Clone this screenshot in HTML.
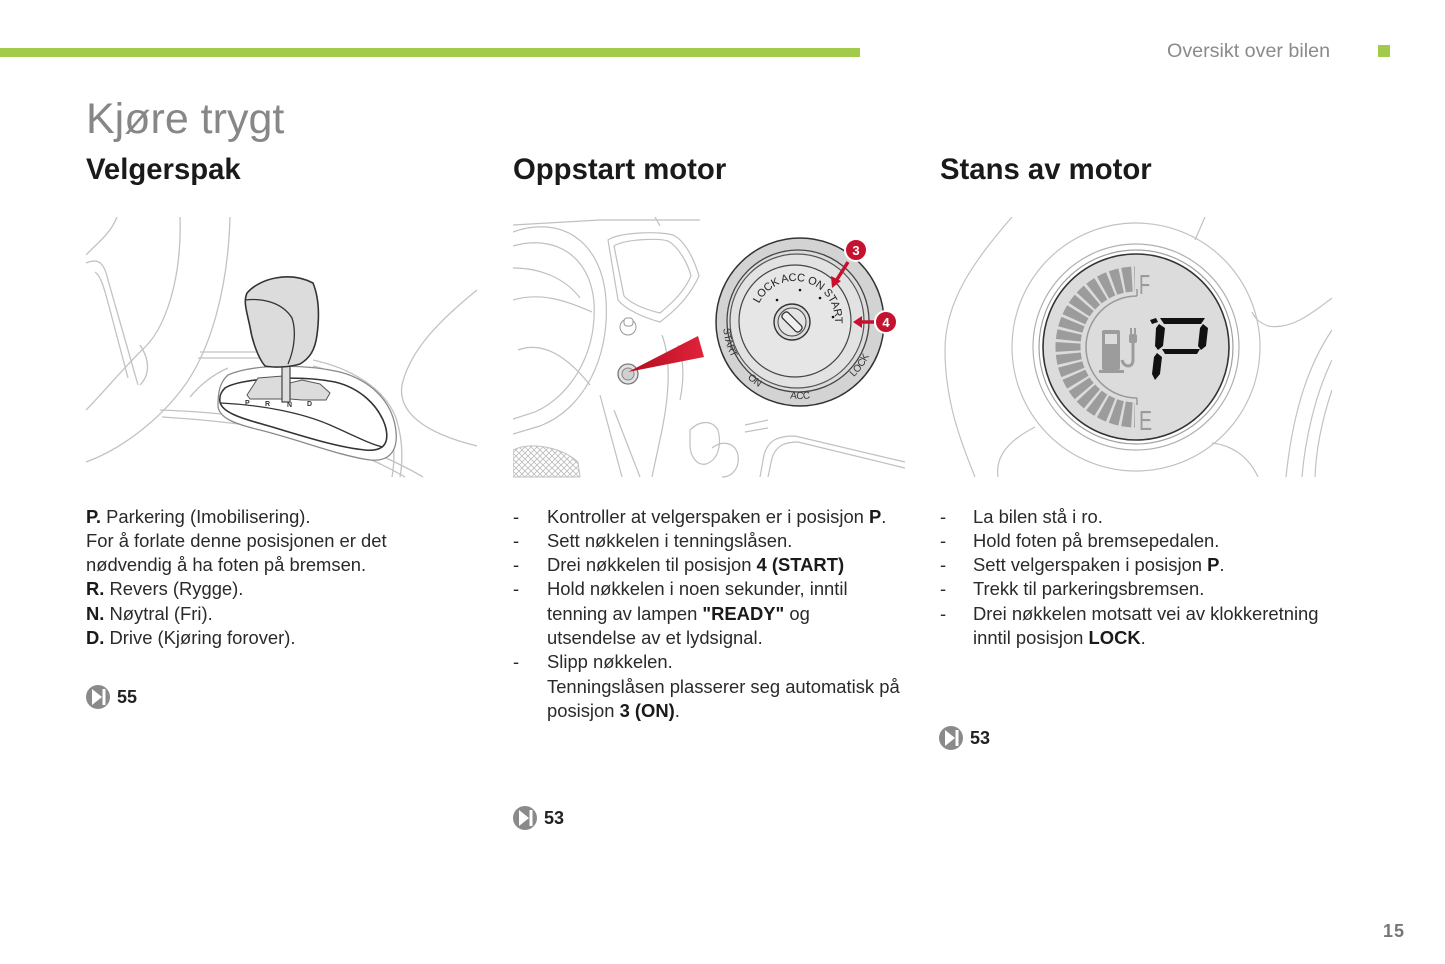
<!DOCTYPE html>
<html><head><meta charset="utf-8">
<style>
html,body{margin:0;padding:0;background:#fff;}
body{width:1445px;height:964px;position:relative;overflow:hidden;font-family:"Liberation Sans",Arial,sans-serif;}
.abs{position:absolute;white-space:nowrap;}
.title{left:86px;top:98px;font-size:43px;line-height:43px;color:#878787;}
.h2{top:155px;font-size:29.3px;line-height:29.3px;font-weight:bold;color:#1a1a1a;}
.body{font-size:18.4px;line-height:24.3px;color:#2a2a2a;}
.body b{color:#1a1a1a;}
.li{position:relative;}
.li .d{position:absolute;left:0;top:0;}
.ref{font-size:18px;line-height:18px;font-weight:bold;color:#222;}
svg{position:absolute;left:0;top:0;}
</style></head><body>

<svg width="1445" height="964" viewBox="0 0 1445 964">
<defs>
<clipPath id="c1"><rect x="85" y="217" width="393" height="261"/></clipPath>
<clipPath id="c2"><rect x="513" y="217" width="393" height="261"/></clipPath>
<clipPath id="c3"><rect x="940" y="217" width="392" height="261"/></clipPath>
<clipPath id="barclip"><rect x="1040" y="250" width="95" height="200"/></clipPath>
<pattern id="mesh" width="6" height="6" patternUnits="userSpaceOnUse">
<path d="M0,0 L6,6 M6,0 L0,6" stroke="#bbb" stroke-width="0.8" fill="none"/>
</pattern>
<linearGradient id="rg" x1="0" y1="0" x2="1" y2="0">
<stop offset="0" stop-color="#b00d20"/><stop offset="1" stop-color="#e2233a"/>
</linearGradient>
<path id="outerArc" d="M723,322 A77,77 0 0 0 877,322"/>
<path id="innerArc" d="M757.4,307.3 A40,40 0 1 1 815,355.6"/>
</defs>

<!-- header -->
<rect x="0" y="48" width="860" height="9" fill="#a2cb4b"/>
<rect x="1378" y="45" width="12" height="12" fill="#a2cb4b"/>

<!-- IMAGE 1: gear selector -->
<g clip-path="url(#c1)" fill="none" stroke="#c2c2c2" stroke-width="1.3">
<path d="M86,255 C95,245 110,235 117,217"/>
<path d="M86,263 C98,258 104,262 108,280 L138,385"/>
<path d="M95,272 C100,275 103,285 106,295 L128,378"/>
<path d="M180,217 C182,280 165,330 142,350 C120,372 100,396 86,410"/>
<path d="M140,345 C150,360 150,375 140,385"/>
<path d="M230,217 C228,290 210,350 185,385 C160,420 120,450 86,462"/>
<path d="M200,352 L262,352"/><path d="M198,358 L262,358"/>
<path d="M313,360 C350,368 385,388 396,418 C403,440 403,460 400,477"/>
<path d="M313,366 C346,374 378,392 388,420 C395,440 395,460 392,477"/>
<path d="M190,397 C200,385 212,375 228,368"/>
<path d="M160,410 C220,412 290,420 332,436 C372,450 408,468 423,477"/>
<path d="M162,417 C228,421 298,430 338,446 C368,457 393,470 405,477"/>
<path d="M477,290 C440,320 410,350 402,385 C398,410 420,432 477,446"/>
</g>
<g clip-path="url(#c1)">
<path d="M228,375 C250,365 300,363 340,372 C370,380 390,400 395,425 C400,450 390,462 370,460 C340,456 300,440 260,430 C235,424 218,418 218,405 C218,392 220,382 228,375 Z" fill="#fff" stroke="#8a8a8a" stroke-width="1.3"/>
<path d="M225,388 C240,378 300,375 335,382 C360,388 378,405 385,425 C390,442 385,452 365,450 C335,447 300,435 262,424 C240,418 222,412 220,402 C219,396 221,392 225,388 Z" fill="#fff" stroke="#333" stroke-width="1.6"/>
<path d="M221,403 C260,405 300,412 330,425 C355,436 372,445 383,447" fill="none" stroke="#333" stroke-width="1.3"/>
<path d="M247,395 L258,378 L283,376 L290,383 L302,380 L320,384 L330,393 L326,400 L302,400 L290,399 L250,399 Z" fill="#dcdcdc" stroke="#555" stroke-width="1"/>
<g font-size="7" fill="#333" font-weight="bold"><text x="245" y="405">P</text><text x="265" y="406">R</text><text x="287" y="407">N</text><text x="307" y="406">D</text></g>
<rect x="282" y="362" width="8" height="40" fill="#dedede" stroke="#444" stroke-width="1.2"/>
<path d="M247,293 C260,278 290,271 313,283 C320,300 319,320 317,335 C315,350 310,358 300,364 C290,367 275,368 265,366 C258,358 252,340 250,327 C247,312 243,302 247,293 Z" fill="#dcdcdc" stroke="#333" stroke-width="1.6"/>
<path d="M245,300 C262,298 282,302 292,318 C296,330 295,348 288,364" fill="none" stroke="#333" stroke-width="1.3"/>
</g>

<!-- IMAGE 2: ignition -->
<g clip-path="url(#c2)" fill="none" stroke="#c0c0c0" stroke-width="1.2">
<path d="M513,232 C560,215 602,240 606,300 C610,360 582,410 540,426 L513,434"/>
<path d="M513,246 C555,234 590,256 594,302 C597,355 570,396 535,412 L513,419"/>
<path d="M513,268 C540,268 565,278 580,298"/>
<path d="M513,300 C540,292 565,300 592,312"/>
<path d="M518,350 C545,340 570,360 590,385"/>
<path d="M513,225 L600,220 L700,220"/>
<path d="M655,217 L660,226"/>
<path d="M608,240 C620,232 660,231 673,235 C686,241 695,262 699,276 C690,296 676,310 660,322 C645,318 626,310 618,300 Z"/>
<path d="M614,246 C625,239 658,238 668,241 C679,247 688,264 691,276 C684,292 672,303 660,313 C647,310 631,304 624,296 Z"/>
<path d="M600,395 L622,477"/><path d="M614,410 L640,477"/>
<path d="M662,335 C672,362 668,400 662,430 L652,477"/>
<path d="M678,345 C684,360 684,380 680,400"/>
<path d="M690,430 C700,420 712,420 718,430 C722,445 718,460 706,464 C696,466 690,455 690,445 Z"/>
<path d="M712,448 C722,440 735,442 738,455 C740,468 732,477 722,477"/>
<path d="M745,425 L768,420"/><path d="M745,432 L768,428"/>
<path d="M760,477 L764,455 C768,440 778,436 795,436 L905,462"/>
<path d="M768,477 L772,458 C776,446 784,442 798,442 L905,468"/>
</g>
<g clip-path="url(#c2)">
<path d="M513,450 C530,442 560,446 578,462 L580,477 L513,477 Z" fill="url(#mesh)" stroke="#c0c0c0"/>
<circle cx="628" cy="327" r="8" fill="#fff" stroke="#999"/>
<rect x="624" y="318" width="9" height="8" rx="3" fill="#fff" stroke="#999"/>
<circle cx="628" cy="374" r="10" fill="#e2e2e2" stroke="#777" stroke-width="1.3"/>
<circle cx="628" cy="374" r="6" fill="#d0d0d0" stroke="#888"/>
<polygon points="628,372 698,336 704,357" fill="url(#rg)"/>
<!-- key ring -->
<circle cx="800" cy="322" r="84" fill="#d3d3d3" stroke="#333" stroke-width="1.5"/>
<circle cx="798" cy="321" r="71" fill="#dcdcdc" stroke="#444" stroke-width="1.3"/>
<circle cx="797" cy="321" r="67" fill="#e2e2e2" stroke="#555" stroke-width="1.2"/>
<circle cx="795" cy="321" r="56" fill="#e6e6e6" stroke="#444" stroke-width="1.2"/>
<g font-size="10" fill="#333" letter-spacing="-0.3">
<text><textPath href="#outerArc" startOffset="9%" text-anchor="middle">START</textPath></text>
<text><textPath href="#outerArc" startOffset="29%" text-anchor="middle">ON</textPath></text>
<text><textPath href="#outerArc" startOffset="50%" text-anchor="middle">ACC</textPath></text>
<text><textPath href="#outerArc" startOffset="80%" text-anchor="middle">LOCK</textPath></text>
</g>
<text font-size="11" fill="#222" letter-spacing="-0.2"><textPath href="#innerArc" startOffset="4">LOCK ACC ON START</textPath></text>
<g fill="#111"><circle cx="777" cy="300" r="1.3"/><circle cx="800" cy="290" r="1.3"/><circle cx="820" cy="298" r="1.3"/><circle cx="833" cy="317" r="1.3"/></g>
<circle cx="792" cy="322" r="18" fill="#dcdcdc" stroke="#333" stroke-width="1.4"/>
<circle cx="792" cy="322" r="14" fill="#e4e4e4" stroke="#444" stroke-width="1"/>
<rect x="788" y="310" width="8" height="24" rx="3" transform="rotate(-45 792 322)" fill="#f0f0f0" stroke="#333" stroke-width="1.3"/>
<!-- markers -->
<path d="M848,262 L836,281" stroke="#c8102e" stroke-width="3.5"/>
<polygon points="832,288 831,276 841,281" fill="#c8102e"/>
<circle cx="856" cy="250" r="11" fill="#c4122f" stroke="#fff" stroke-width="2"/>
<text x="856" y="255" font-size="13" font-weight="bold" fill="#fff" text-anchor="middle">3</text>
<path d="M874,322 L860,322" stroke="#c8102e" stroke-width="3.5"/>
<polygon points="853,322 862,316 862,328" fill="#c8102e"/>
<circle cx="886" cy="322" r="11" fill="#c4122f" stroke="#fff" stroke-width="2"/>
<text x="886" y="327" font-size="13" font-weight="bold" fill="#fff" text-anchor="middle">4</text>
</g>

<!-- IMAGE 3: display -->
<g clip-path="url(#c3)" fill="none" stroke="#c2c2c2" stroke-width="1.2">
<path d="M1012,217 C975,260 945,300 945,350 C945,400 960,440 975,477"/>
<path d="M1205,217 L1195,240"/>
<path d="M1332,298 C1310,315 1290,330 1268,326 C1258,322 1255,318 1252,312"/>
<path d="M1332,330 C1305,370 1292,420 1286,477"/>
<path d="M1332,360 C1315,395 1305,440 1302,477"/>
<path d="M1332,390 C1322,420 1316,450 1315,477"/>
<path d="M1035,427 C1010,440 995,455 998,477"/>
<path d="M1212,443 C1230,445 1248,455 1258,477"/>
<circle cx="1136" cy="347" r="124"/>
<circle cx="1136" cy="347" r="103" stroke="#b0b0b0"/>
<circle cx="1136" cy="347" r="97" stroke="#a0a0a0"/>
</g>
<g clip-path="url(#c3)">
<circle cx="1136" cy="347" r="93" fill="#dcdcdc" stroke="#333" stroke-width="1.6"/>
<circle cx="1136" cy="347" r="68" fill="none" stroke="#9c9c9c" stroke-width="25" stroke-dasharray="8.4 2.54" stroke-dashoffset="9.44" clip-path="url(#barclip)"/>
<path d="M1137,296 A51,51 0 0 0 1137,398" fill="none" stroke="#999" stroke-width="1.5"/>
<path d="M1137,289 L1137,296 M1137,398 L1137,405" stroke="#999" stroke-width="1.5"/>
<text x="1139" y="294" font-size="28" fill="#9a9a9a" transform="translate(1139 0) scale(0.65 1) translate(-1139 0)">F</text>
<text x="1139" y="430" font-size="28" fill="#9a9a9a" transform="translate(1139 0) scale(0.7 1) translate(-1139 0)">E</text>
<!-- pump -->
<rect x="1102" y="330" width="18" height="40" rx="2" fill="#9c9c9c"/>
<rect x="1105" y="334" width="12" height="10" fill="#dcdcdc"/>
<rect x="1099" y="370" width="25" height="3" fill="#9c9c9c"/>
<path d="M1133,343 L1133,360 C1133,368 1124,368 1122,360" fill="none" stroke="#9c9c9c" stroke-width="3"/>
<rect x="1129" y="334" width="8" height="9" rx="2" fill="#9c9c9c"/>
<path d="M1131,334 L1131,328 M1135,334 L1135,328" stroke="#9c9c9c" stroke-width="2"/>
<!-- P segments -->
<g fill="#111">
<polygon points="1150,320 1156,318 1158,322 1152,324"/>
<polygon points="1160,318 1205,318 1201,324 1164,324"/>
<polygon points="1159,324 1165,328 1163,346 1158,350 1155,346 1156,328"/>
<polygon points="1203,324 1208,328 1206,346 1201,350 1198,346 1200,328"/>
<polygon points="1162,349 1200,349 1197,354 1165,354"/>
<polygon points="1157,353 1162,357 1160,374 1155,380 1152,374 1154,357"/>
</g>
</g>

<!-- reference icons -->
<g>
<circle cx="98" cy="697" r="12" fill="#8a8a8a"/>
<polygon points="92,689 102,697 92,705" fill="#fff"/><rect x="102.5" y="689" width="3" height="16" fill="#fff"/>
<circle cx="525" cy="818" r="12" fill="#8a8a8a"/>
<polygon points="519,810 529,818 519,826" fill="#fff"/><rect x="529.5" y="810" width="3" height="16" fill="#fff"/>
<circle cx="951" cy="738" r="12" fill="#8a8a8a"/>
<polygon points="945,730 955,738 945,746" fill="#fff"/><rect x="955.5" y="730" width="3" height="16" fill="#fff"/>
</g>
</svg>

<div class="abs" style="left:1167px;top:41px;font-size:19.7px;line-height:20px;color:#8a8a8a;">Oversikt over bilen</div>
<div class="abs title">Kjøre trygt</div>
<div class="abs h2" style="left:86px;">Velgerspak</div>
<div class="abs h2" style="left:513px;">Oppstart motor</div>
<div class="abs h2" style="left:940px;">Stans av motor</div>

<div class="abs body" style="left:86px;top:504.5px;">
<div><b>P.</b> Parkering (Imobilisering).</div>
<div>For å forlate denne posisjonen er det</div>
<div>nødvendig å ha foten på bremsen.</div>
<div><b>R.</b> Revers (Rygge).</div>
<div><b>N.</b> Nøytral (Fri).</div>
<div><b>D.</b> Drive (Kjøring forover).</div>
</div>

<div class="abs body" style="left:513px;top:504.5px;">
<div class="li" style="padding-left:34px;"><span class="d">-</span>Kontroller at velgerspaken er i posisjon <b>P</b>.</div>
<div class="li" style="padding-left:34px;"><span class="d">-</span>Sett nøkkelen i tenningslåsen.</div>
<div class="li" style="padding-left:34px;"><span class="d">-</span>Drei nøkkelen til posisjon <b>4 (START)</b></div>
<div class="li" style="padding-left:34px;"><span class="d">-</span>Hold nøkkelen i noen sekunder, inntil</div>
<div class="li" style="padding-left:34px;">tenning av lampen <b>"READY"</b> og</div>
<div class="li" style="padding-left:34px;">utsendelse av et lydsignal.</div>
<div class="li" style="padding-left:34px;"><span class="d">-</span>Slipp nøkkelen.</div>
<div class="li" style="padding-left:34px;">Tenningslåsen plasserer seg automatisk på</div>
<div class="li" style="padding-left:34px;">posisjon <b>3 (ON)</b>.</div>
</div>

<div class="abs body" style="left:940px;top:504.5px;">
<div class="li" style="padding-left:33px;"><span class="d">-</span>La bilen stå i ro.</div>
<div class="li" style="padding-left:33px;"><span class="d">-</span>Hold foten på bremsepedalen.</div>
<div class="li" style="padding-left:33px;"><span class="d">-</span>Sett velgerspaken i posisjon <b>P</b>.</div>
<div class="li" style="padding-left:33px;"><span class="d">-</span>Trekk til parkeringsbremsen.</div>
<div class="li" style="padding-left:33px;"><span class="d">-</span>Drei nøkkelen motsatt vei av klokkeretning</div>
<div class="li" style="padding-left:33px;">inntil posisjon <b>LOCK</b>.</div>
</div>

<div class="abs ref" style="left:117px;top:688px;">55</div>
<div class="abs ref" style="left:544px;top:809px;">53</div>
<div class="abs ref" style="left:970px;top:729px;">53</div>

<div class="abs" style="left:1383px;top:922px;font-size:18px;line-height:18px;font-weight:bold;color:#777;letter-spacing:1px;">15</div>
</body></html>
